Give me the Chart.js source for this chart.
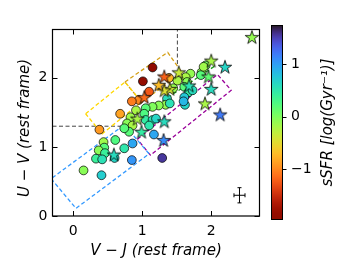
<!DOCTYPE html>
<html><head><meta charset="utf-8">
<script src="https://cdn.jsdelivr.net/npm/chart.js@4.4.1/dist/chart.umd.min.js"></script>
<style>html,body{margin:0;padding:0;background:#fff;overflow:hidden}canvas{display:block}</style>
</head><body>
<canvas id="c" width="350" height="280"></canvas>
<script>
// ---- data ----
const circleX = [1.15,1.01,1.10,0.95,0.85,0.68,0.38,1.39,1.51,1.70,1.86,1.92,1.85,1.63,1.65,1.61,1.89,1.67,1.73,1.61,1.62,1.60,1.36,1.34,1.24,1.15,1.05,1.03,1.05,0.91,0.83,0.78,0.86,0.81,1.15,1.20,1.10,1.17,0.86,1.29,0.44,0.45,0.37,0.46,0.33,0.42,0.15,0.41,0.61,0.74,0.60,0.85,1.45,1.40,0.74];
const circleY = [2.15,1.95,1.80,1.68,1.66,1.48,1.25,2.00,1.96,2.06,2.08,2.18,2.04,2.01,1.94,1.87,2.16,1.79,1.82,1.72,1.61,1.66,1.70,1.61,1.60,1.58,1.56,1.48,1.39,1.53,1.43,1.34,1.31,1.22,1.39,1.41,1.31,1.18,1.05,0.84,1.07,0.99,0.95,0.91,0.83,0.82,0.66,0.59,1.10,0.98,0.84,0.81,1.85,1.63,1.27];
const circleSSFR = [-1.9,-1.85,-1.25,-1.0,-1.05,-0.85,-0.9,-0.75,-0.2,-0.1,-0.05,0.05,0.2,-0.2,-0.05,0.2,-0.15,0.45,0.6,0.75,0.65,0.85,0.6,-0.1,-0.05,0.0,0.2,0.25,0.45,-0.2,-0.15,-0.05,-0.2,0.2,0.55,0.65,0.5,0.95,0.95,1.55,-0.15,0.2,-0.05,0.4,0.4,0.55,-0.05,0.7,0.25,0.5,0.65,1.05,-0.1,0.55,0.2];
const starX = [2.59,2.00,2.20,1.96,2.00,1.91,2.13,1.68,1.53,1.40,1.32,1.24,1.32,1.03,0.93,0.99,1.32,1.31,0.59];
const starY = [2.59,2.25,2.16,2.02,1.84,1.63,1.47,1.89,2.08,1.84,1.82,1.90,2.02,1.72,1.41,1.22,1.37,1.10,0.89];
const starSSFR = [-0.1,-0.2,0.65,0.15,0.6,-0.2,1.2,0.55,-0.35,-0.4,-0.45,-0.7,-1.2,-1.15,-0.2,0.45,0.6,1.1,0.6];

const blueBoxX = [-0.32,0.04,1.10,0.74,-0.32];
const blueBoxY = [0.54,0.11,0.90,1.32,0.54];
const yellowBoxX = [0.18,0.75,0.99,0.42,0.18];
const yellowBoxY = [1.48,1.94,1.65,1.19,1.48];
const goldBoxX = [0.75,1.37,1.58,0.99,0.75];
const goldBoxY = [1.94,2.37,2.07,1.65,1.94];
const purpleBoxX = [0.93,2.09,2.29,1.12,0.93];
const purpleBoxY = [1.11,2.05,1.82,0.88,1.11];
const greenLineX = [0.98,2.05];
const greenLineY = [1.45,2.17];
const uvjHX = [-0.3,0.8];
const uvjHY = [1.3,1.3];
const uvjVX = [1.51,1.51];
const uvjVY = [2.2,2.7];

const errCenter = [2.41,0.30];
const errSize = [0.08,0.11];

const xTicks = [0,1,2];
const yTicks = [0,1,2];
const cbTicks = [-1,0,1];
const xRange = [-0.3,2.7];
const yRange = [0,2.7];
const cbRange = [-1.96,1.74];

const xTitle = 'V \u2212 J (rest frame)';
const yTitle = 'U \u2212 V (rest frame)';
const cbTitle = 'sSFR [log(Gyr\u207B\u00B9)]';

// ---- colour map (turbo, reversed) ----
function turbo(t){
  t = Math.max(0, Math.min(1, t));
  const r=0.13572138+t*(4.61539260+t*(-42.66032258+t*(132.13108234+t*(-152.94239396+t*59.28637943))));
  const g=0.09140261+t*(2.19418839+t*(4.84296658+t*(-14.18503333+t*(4.27729857+t*2.82956604))));
  const b=0.10667330+t*(12.64194608+t*(-60.58204836+t*(110.36276771+t*(-89.90310912+t*27.34824973))));
  const c=v=>Math.round(255*Math.max(0,Math.min(1,v)));
  return 'rgb('+c(r)+','+c(g)+','+c(b)+')';
}
function ssfrColor(v){ return turbo(1-(v-cbRange[0])/(cbRange[1]-cbRange[0])); }

function starImg(color){
  const R=7.1, r=R*0.381966, S=18;
  const cv=document.createElement('canvas'); cv.width=S; cv.height=S;
  const g=cv.getContext('2d');
  g.beginPath();
  for(let i=0;i<10;i++){
    const a=-Math.PI/2+i*Math.PI/5, rr=(i%2)?r:R;
    g.lineTo(S/2+rr*Math.cos(a), S/2+0.6+rr*Math.sin(a));
  }
  g.closePath(); g.fillStyle=color; g.fill();
  g.lineWidth=0.8; g.strokeStyle='#000'; g.lineJoin='miter'; g.stroke();
  return cv;
}
const starImages = starSSFR.map(v=>starImg(ssfrColor(v)));

const zip=(xs,ys)=>xs.map((x,i)=>({x:x,y:ys[i]}));
function lineDs(xs,ys,color,order){
  return {type:'line',data:zip(xs,ys),borderColor:color,borderWidth:1.3,borderDash:[4,2.5],
    pointRadius:0,fill:false,tension:0,order:order,clip:0};
}

// ---- plugin: frame, inward ticks, error bar, y title, colorbar ----
const decor = {
  id:'decor',
  afterDatasetsDraw(chart){
    const {ctx, chartArea:a, scales:{x,y}} = chart;
    ctx.save();
    // error bar
    ctx.strokeStyle='#000'; ctx.lineWidth=1;
    const cx=x.getPixelForValue(errCenter[0]), cy=y.getPixelForValue(errCenter[1]);
    const x0=x.getPixelForValue(errCenter[0]-errSize[0]), x1=x.getPixelForValue(errCenter[0]+errSize[0]);
    const y0=y.getPixelForValue(errCenter[1]-errSize[1]), y1=y.getPixelForValue(errCenter[1]+errSize[1]);
    ctx.beginPath();
    ctx.moveTo(x0,cy); ctx.lineTo(x1,cy);
    ctx.moveTo(cx,y0); ctx.lineTo(cx,y1);
    ctx.moveTo(x0,cy-2); ctx.lineTo(x0,cy+2);
    ctx.moveTo(x1,cy-2); ctx.lineTo(x1,cy+2);
    ctx.moveTo(cx-2,y0); ctx.lineTo(cx+2,y0);
    ctx.moveTo(cx-2,y1); ctx.lineTo(cx+2,y1);
    ctx.stroke();
    // frame
    ctx.lineWidth=1.2;
    ctx.strokeRect(a.left,a.top,a.right-a.left,a.bottom-a.top);
    // ticks inward
    ctx.lineWidth=1;
    ctx.beginPath();
    const tl=5;
    xTicks.forEach(v=>{const px=Math.round(x.getPixelForValue(v))+0.5;
      ctx.moveTo(px,a.bottom); ctx.lineTo(px,a.bottom-tl);
      ctx.moveTo(px,a.top); ctx.lineTo(px,a.top+tl);});
    yTicks.forEach(v=>{const py=Math.round(y.getPixelForValue(v))+0.5;
      ctx.moveTo(a.left,py); ctx.lineTo(a.left+tl,py);
      ctx.moveTo(a.right,py); ctx.lineTo(a.right-tl,py);});
    ctx.stroke();
    ctx.restore();
  },
  afterDraw(chart){
    const ctx=chart.ctx;
    // y-axis title
    ctx.save();
    ctx.fillStyle='#000'; ctx.font='italic 15px "DejaVu Sans"'; ctx.textAlign='center'; ctx.textBaseline='middle';
    ctx.translate(25,128); ctx.rotate(-Math.PI/2);
    ctx.fillText(yTitle,0,0);
    ctx.restore();
    // colorbar
    const L=271, Rr=283, T=25, B=220;
    const vy=v=>T+(cbRange[1]-v)/(cbRange[1]-cbRange[0])*(B-T);
    ctx.save();
    for(let py=T; py<B; py++){
      const v=cbRange[1]-(py+0.5-T)/(B-T)*(cbRange[1]-cbRange[0]);
      ctx.fillStyle=ssfrColor(v);
      ctx.fillRect(L,py,Rr-L,1);
    }
    ctx.strokeStyle='#000'; ctx.lineWidth=1;
    ctx.strokeRect(L+0.5,T+0.5,Rr-L-1,B-T-1);
    ctx.beginPath();
    cbTicks.forEach(v=>{const py=Math.round(vy(v))+0.5; ctx.moveTo(Rr,py); ctx.lineTo(Rr+3.5,py);});
    ctx.stroke();
    ctx.fillStyle='#000'; ctx.font='14px "DejaVu Sans"'; ctx.textAlign='left'; ctx.textBaseline='middle';
    cbTicks.forEach(v=>{ctx.fillText(v<0?'\u2212'+Math.abs(v):String(v), 291, vy(v));});
    ctx.translate(328.5,122.5); ctx.rotate(-Math.PI/2);
    ctx.font='italic 15px "DejaVu Sans"'; ctx.textAlign='center';
    ctx.fillText(cbTitle,0,0);
    ctx.restore();
  }
};

new Chart(document.getElementById('c'), {
  type:'scatter',
  data:{datasets:[
    lineDs(blueBoxX,blueBoxY,'#3399ff',5),
    lineDs(yellowBoxX,yellowBoxY,'#ffd700',5),
    lineDs(goldBoxX,goldBoxY,'#d4a017',5),
    lineDs(purpleBoxX,purpleBoxY,'#990099',5),
    lineDs(greenLineX,greenLineY,'#1a9c1a',5),
    Object.assign(lineDs(uvjHX,uvjHY,'#444',5),{borderWidth:1}),
    Object.assign(lineDs(uvjVX,uvjVY,'#444',5),{borderWidth:1}),
    {label:'circles',data:zip(circleX,circleY),pointRadius:4.4,pointHoverRadius:4.4,
      pointBackgroundColor:ctx=>ssfrColor(circleSSFR[ctx.dataIndex]),
      pointBorderColor:'#000',pointBorderWidth:0.7,order:2},
    {label:'stars',data:zip(starX,starY),pointRadius:7,
      pointStyle:ctx=>starImages[ctx.dataIndex],order:1}
  ]},
  options:{
    responsive:false, animation:false, devicePixelRatio:1,
    layout:{padding:{left:0,top:29.5,right:90.5,bottom:0}},
    plugins:{legend:{display:false},tooltip:{enabled:false}},
    scales:{
      x:{type:'linear',min:xRange[0],max:xRange[1],
        afterBuildTicks:s=>{s.ticks=xTicks.map(v=>({value:v}));},
        afterFit:s=>{s.height=64;},
        grid:{display:false,drawTicks:false},border:{display:false},
        ticks:{color:'#000',padding:7,font:{family:'DejaVu Sans',size:14},callback:v=>String(v)},
        title:{display:true,text:xTitle,color:'#000',font:{family:'DejaVu Sans',size:15,style:'italic'},padding:{top:0,bottom:20}}},
      y:{type:'linear',min:yRange[0],max:yRange[1],
        afterBuildTicks:s=>{s.ticks=yTicks.map(v=>({value:v}));},
        afterFit:s=>{s.width=52.5;},
        grid:{display:false,drawTicks:false},border:{display:false},
        ticks:{color:'#000',padding:5,font:{family:'DejaVu Sans',size:14},callback:v=>String(v)},
        title:{display:false,text:yTitle}}
    }
  },
  plugins:[decor]
});
</script>
</body></html>
